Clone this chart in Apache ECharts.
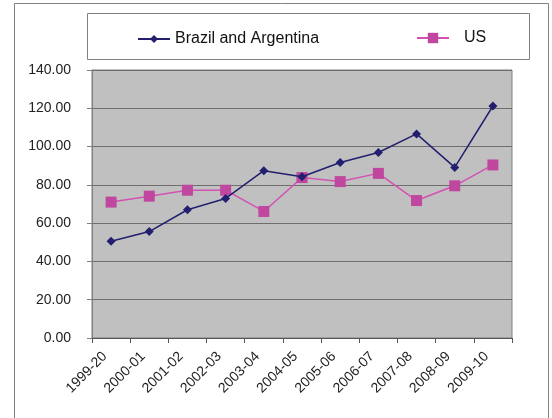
<!DOCTYPE html>
<html><head><meta charset="utf-8">
<script src="https://cdn.jsdelivr.net/npm/echarts@6/dist/echarts.min.js"></script>
<style>html,body{margin:0;padding:0;background:#fff}#c{width:552px;height:418px}</style>
</head><body><div id="c"></div>
<script>
const categories = ['1999-20','2000-01','2001-02','2002-03','2003-04','2004-05','2005-06','2006-07','2007-08','2008-09','2009-10'];
const brazilArgentina = [50.5, 55.6, 67.0, 72.9, 87.4, 84.2, 91.7, 96.9, 106.6, 89.1, 121.2];
const us = [71.0, 74.1, 77.2, 77.2, 66.1, 83.8, 81.7, 86.0, 71.8, 79.5, 90.4];
const yTicks = {min: 0, max: 140, interval: 20};

const chart = echarts.init(document.getElementById('c'), null, {renderer: 'canvas'});
const font = 'Liberation Sans, Arial, sans-serif';
chart.setOption({
  animation: false,
  backgroundColor: '#fff',
  graphic: [
    {type: 'rect', shape: {x: 14.5, y: 3.5, width: 534, height: 430}, style: {fill: 'none', stroke: '#808080', lineWidth: 1}, z: -1},
    {type: 'rect', shape: {x: 87.5, y: 13.5, width: 442, height: 46}, style: {fill: '#fff', stroke: '#808080', lineWidth: 1}, z: -1}
  ],
  legend: [
    {data: ['Brazil and Argentina'], left: 132, top: 26, itemWidth: 32, itemHeight: 10, itemGap: 0,
     textStyle: {fontFamily: font, fontSize: 16, color: '#111', padding: [0, 0, 0, 0]}},
    {data: ['US'], left: 411, top: 25, itemWidth: 32, itemHeight: 13, itemGap: 0,
     textStyle: {fontFamily: font, fontSize: 16, color: '#111', padding: [0, 0, 0, 10]}}
  ],
  grid: {left: 92, right: 40, top: 70, bottom: 80, show: true, backgroundColor: '#C0C0C0', borderColor: '#808080', borderWidth: 1},
  xAxis: {
    type: 'category', data: categories, boundaryGap: true,
    axisLine: {lineStyle: {color: '#555', width: 1}},
    axisTick: {show: true, inside: false, length: 5, lineStyle: {color: '#555'}},
    axisLabel: {rotate: 45, margin: 10, padding: [0, 9, 0, 0], fontFamily: font, fontSize: 14, color: '#222', interval: 0}
  },
  yAxis: {
    type: 'value', min: yTicks.min, max: yTicks.max, interval: yTicks.interval,
    axisLine: {show: true, lineStyle: {color: '#808080', width: 1}},
    axisTick: {show: true, inside: false, length: 5, lineStyle: {color: '#808080'}},
    axisLabel: {margin: 21, fontFamily: font, fontSize: 14, color: '#222', formatter: v => v.toFixed(2)},
    splitLine: {show: true, lineStyle: {color: '#6e6e6e', width: 1}}
  },
  series: [
    {name: 'Brazil and Argentina', type: 'line', data: brazilArgentina, symbol: 'diamond', symbolSize: 9,
     lineStyle: {color: '#22206E', width: 1.5}, itemStyle: {color: '#22206E'}, z: 3},
    {name: 'US', type: 'line', data: us, symbol: 'rect', symbolSize: 11,
     lineStyle: {color: '#D451B4', width: 1.5}, itemStyle: {color: '#C0479F'}, z: 2}
  ]
});
</script></body></html>
